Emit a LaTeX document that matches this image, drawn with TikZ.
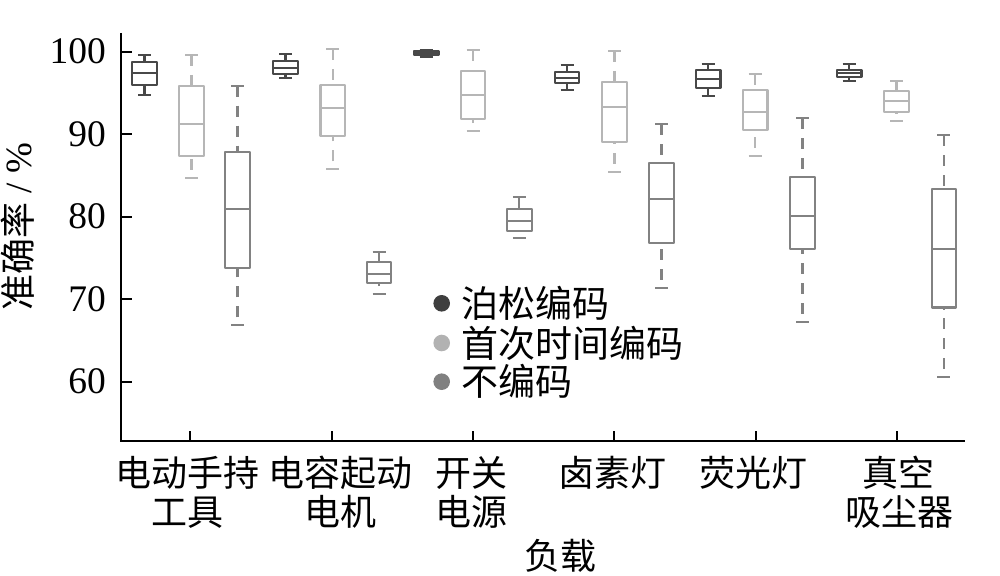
\documentclass[tikz,border=0pt]{standalone}
\usepackage{fontspec}
\setmainfont{Liberation Serif}
\newfontfamily\cjk{Noto Sans CJK SC}
\definecolor{cdark}{RGB}{72,72,72}
\definecolor{cmid}{RGB}{130,130,130}
\definecolor{clight}{RGB}{182,182,182}
\definecolor{ldark}{RGB}{62,62,62}
\definecolor{lmid}{RGB}{128,128,128}
\definecolor{llight}{RGB}{178,178,178}
\tikzset{
  bdark/.style={draw=cdark, line width=2.1pt, line join=round},
  bmid/.style={draw=cmid, line width=2.1pt, line join=round},
  blight/.style={draw=clight, line width=2.1pt, line join=round},
  wdark/.style={solid},
  wmid/.style={dash pattern=on 11pt off 9pt},
  wlight/.style={dash pattern=on 11pt off 9pt},
  axisline/.style={draw=black, line width=2pt},
  ticklab/.style={inner sep=0pt, font=\fontsize{37.5}{40}\selectfont},
  catlab/.style={inner sep=0pt, anchor=base, font=\fontsize{36}{38}\selectfont\cjk},
  leglab/.style={inner sep=0pt, anchor=base west, font=\fontsize{37}{40}\selectfont\cjk},
}
% #1 kind, #2 cx, #3 whisker top, #4 q3, #5 median, #6 q1, #7 whisker bottom
\newcommand\bplot[7]{%
  \draw[b#1] (#2-12.25,#4) rectangle (#2+12.25,#6);
  \draw[b#1] (#2-12.25,#5) -- (#2+12.25,#5);
  \draw[b#1] (#2-6.5,#3) -- (#2+6.5,#3);
  \draw[b#1] (#2-6.5,#7) -- (#2+6.5,#7);
  \draw[b#1,w#1] (#2,#3) -- (#2,#4-1);
  \draw[b#1,w#1,dash phase=12pt] (#2,#7) -- (#2,#6+1);
}
\begin{document}
\begin{tikzpicture}[x=1pt,y=-1pt]
\useasboundingbox (0,0) rectangle (1000,575);
% axes
\coordinate (otop) at (121,33);
\coordinate (orig) at (121,441);
\coordinate (xend) at (965,441);
\draw[axisline] (otop) -- (orig) -- (xend);
% y ticks
\foreach \v/\yy in {100/51.7,90/134.2,80/216.7,70/299.2,60/381.7}{
  \draw[axisline] (121,\yy) -- (132,\yy);
  \node[ticklab, anchor=east] (t\v) at (106,\yy) {\v};
}
% x ticks
\foreach \xx in {190,331.7,472.7,614.3,755.7,896.7}{
  \draw[axisline] (\xx,441) -- (\xx,431);
}
% boxes
\bplot{dark}{144.5}{55}{62.3}{72.7}{85}{95}
\bplot{light}{191.5}{55}{85.7}{124}{156}{177.7}
\bplot{mid}{237.5}{85.7}{152.3}{209.3}{267.7}{325.3}
\bplot{dark}{285.5}{54}{61}{67.7}{74.3}{78.3}
\bplot{light}{332.7}{49.3}{85}{108.3}{135.7}{169.3}
\bplot{mid}{379}{252.3}{262.3}{273.7}{283.3}{294}
\bplot{dark}{426.2}{50.5}{51.2}{53.3}{55}{57.3}
\bplot{light}{473}{50}{71}{95}{118.7}{131}
\bplot{mid}{519.3}{196.7}{209.3}{221}{230.7}{238.3}
\bplot{dark}{567}{65}{72.3}{77.7}{83.3}{90}
\bplot{light}{614.5}{51}{81.7}{107.3}{141.7}{171.7}
\bplot{mid}{661.5}{124.3}{163.3}{199.3}{243.3}{287.7}
\bplot{dark}{708.2}{64}{70}{79}{87.7}{96}
\bplot{light}{755.2}{74.3}{90}{111.7}{130}{156}
\bplot{mid}{802.5}{118.3}{176.7}{215.7}{249.3}{321.7}
\bplot{dark}{849.2}{64}{70}{73.3}{77.3}{80.7}
\bplot{light}{896.5}{80.7}{91}{101}{111.7}{121.3}
\bplot{mid}{943.8}{135}{189}{249.3}{307.5}{376.7}
% legend
\fill[ldark] (441.7,303.3) circle (8.3);
\fill[llight] (441.7,343) circle (8.3);
\fill[lmid] (441.7,381.7) circle (8.3);
\node[leglab] (leg1) at (461,317.3) {泊松编码};
\node[leglab] (leg2) at (461,357) {首次时间编码};
\node[leglab] (leg3) at (461,395.7) {不编码};
% category labels
\node[catlab] (c1a) at (187,486.7) {电动手持};
\node[catlab] (c1b) at (187,525) {工具};
\node[catlab] (c2a) at (340,486.7) {电容起动};
\node[catlab] (c2b) at (340,525) {电机};
\node[catlab] (c3a) at (471,486.7) {开关};
\node[catlab] (c3b) at (471,525) {电源};
\node[catlab] (c4a) at (612.5,486.7) {卤素灯};
\node[catlab] (c5a) at (753,486.7) {荧光灯};
\node[catlab] (c6a) at (898,486.7) {真空};
\node[catlab] (c6b) at (899,525) {吸尘器};
% axis titles
\node[catlab] (xt) at (560,569) {负载};
\node[inner sep=0pt, rotate=90, font=\fontsize{37}{40}\selectfont] (yt) at (18,226.5) {{\cjk\fontsize{36}{38}\selectfont 准确率} / \%};
\end{tikzpicture}
\end{document}
